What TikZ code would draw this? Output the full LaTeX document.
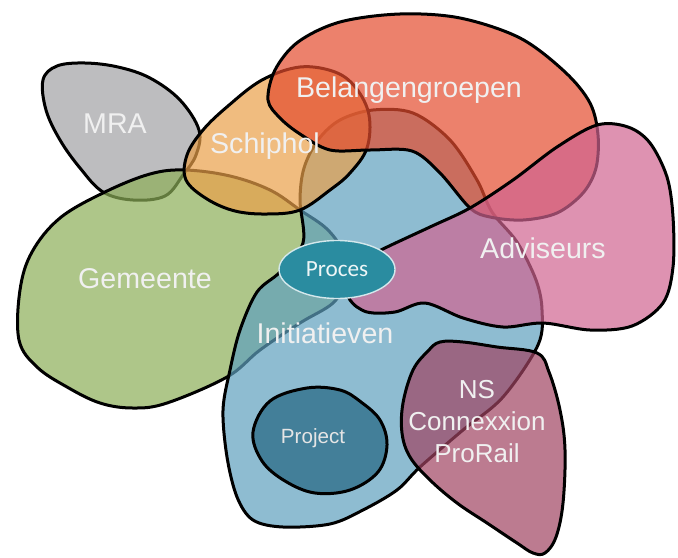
\documentclass[tikz,border=0pt]{standalone}
\usepackage{fontspec}
\usepackage{xcolor}
\usetikzlibrary{shapes.geometric}
\setmainfont{Liberation Sans}
\newfontfamily\procesfont{Carlito}
\definecolor{mragray}{RGB}{162,162,165}
\definecolor{gemeentegreen}{RGB}{141,174,88}
\definecolor{schipholorange}{RGB}{234,160,74}
\definecolor{belangred}{RGB}{228,76,46}
\definecolor{adviseurspink}{RGB}{208,100,145}
\definecolor{initiatievenblue}{RGB}{95,160,190}
\definecolor{nsmauve}{RGB}{160,68,98}
\definecolor{projectblue}{RGB}{36,102,130}
\definecolor{procesteal}{RGB}{42,140,160}

\begin{document}
\begin{tikzpicture}[x=0.5pt, y=-0.5pt, line join=round,
        grayregion/.style={fill=mragray, draw=black, line width=1.5pt, fill opacity=0.7},
        greenregion/.style={fill=gemeentegreen, draw=black, line width=1.5pt, fill opacity=0.7},
        blueregion/.style={fill=initiatievenblue, draw=black, line width=1.5pt, fill opacity=0.7},
        orangeregion/.style={fill=schipholorange, draw=black, line width=1.5pt, fill opacity=0.7},
        redregion/.style={fill=belangred, draw=black, line width=1.5pt, fill opacity=0.7},
        pinkregion/.style={fill=adviseurspink, draw=black, line width=1.5pt, fill opacity=0.7},
        mauveregion/.style={fill=nsmauve, draw=black, line width=1.5pt, fill opacity=0.7},
        projectregion/.style={fill=projectblue, draw=black, line width=1.5pt, fill opacity=0.7},
        procesnode/.style={shape=ellipse, fill=procesteal, draw=white!80!procesteal, line width=0.7pt,
            minimum width=58pt, minimum height=29pt, inner sep=0pt, text=white!92!procesteal,
            font=\procesfont\fontsize{11.6}{14}\selectfont},
        biglabel/.style={text=white!94!black, anchor=base, inner sep=0pt, font=\fontsize{14.3}{17}\selectfont},
        smalllabel/.style={text=white!90!black, anchor=base, inner sep=0pt, font=\fontsize{10.3}{12}\selectfont}]
        \fill[white] (0,0) rectangle (678,557);
        \useasboundingbox (0,0) rectangle (678,557);
        % Regions, from bottom to top
        \draw[grayregion] plot[smooth cycle, tension=0.6] coordinates {(43,80) (57,66) (85,63) (118,67) (150,78) (180,100) (199,130) (196,155) (183,175) (165,196) (133,200) (103,192) (80,168) (60,140) (46,110)};
        \draw[greenregion] plot[smooth cycle, tension=0.6] coordinates {(20,290) (32,252) (60,218) (105,192) (150,174) (185,170) (230,176) (270,190) (300,210) (328,230) (344,255) (344,282) (333,303) (300,323) (260,350) (227,377) (167,403) (133,408) (100,403) (67,387) (37,367) (19,340)};
        \draw[blueregion] plot[smooth cycle, tension=0.55] coordinates {(300,200) (304,168) (318,140) (340,120) (373,110) (413,113) (450,140) (477,180) (492,212) (517,242) (536,280) (542,310) (538,345) (503,397) (463,430) (420,467) (397,490) (363,510) (330,524) (283,527) (253,520) (237,497) (227,457) (223,410) (230,370) (240,330) (257,292) (280,272) (303,243)};
        \draw[orangeregion] plot[smooth cycle, tension=0.6] coordinates {(187,155) (203,130) (228,106) (262,80) (300,67) (335,72) (356,88) (369,115) (367,148) (350,173) (330,190) (300,210) (267,214) (235,211) (207,199) (186,180)};
        \draw[redregion] plot[smooth cycle, tension=0.55] coordinates {(268,100) (275,70) (298,42) (340,22) (400,14) (460,18) (520,38) (565,72) (590,103) (598,135) (596,168) (583,193) (557,213) (523,220) (490,217) (470,208) (440,173) (412,151) (370,150) (330,150) (300,134) (280,118)};
        \draw[pinkregion] plot[smooth cycle, tension=0.55] coordinates {(350,300) (367,312) (395,312) (425,303) (463,318) (503,327) (543,323) (590,330) (632,326) (663,303) (673,267) (673,217) (667,177) (650,143) (628,127) (597,125) (557,147) (513,180) (470,208) (430,227) (383,249) (360,262) (348,282)};
        \draw[mauveregion] plot[smooth cycle, tension=0.6] coordinates {(440,342) (463,342) (497,347) (537,353) (549,372) (560,410) (565,450) (563,503) (556,537) (545,553) (533,553) (517,543) (487,523) (457,503) (430,480) (410,457) (402,433) (403,403) (413,370) (428,351)};
        \draw[projectregion] plot[smooth cycle, tension=0.6] coordinates {(253,432) (270,401) (307,388) (340,390) (361,402) (380,420) (387,445) (378,472) (350,490) (315,493) (285,481) (262,461)};
        % Proces
        \node[procesnode] (proces) at (337,269.5) {Proces};
        % Labels
        \node[biglabel] (mra) at (115,133) {MRA};
        \node[biglabel] (schiphol) at (265,153) {Schiphol};
        \node[biglabel] (belangengroepen) at (409,97) {Belangengroepen};
        \node[biglabel] (gemeente) at (145,288) {Gemeente};
        \node[biglabel] (adviseurs) at (543,258) {Adviseurs};
        \node[biglabel] (initiatieven) at (325,343) {Initiatieven};
        \node[biglabel, font=\fontsize{13}{16}\selectfont, align=center] (ns) at (477,462) {NS\\Connexxion\\ProRail};
        \node[smalllabel] (project) at (313,443) {Project};
\end{tikzpicture}
\end{document}
